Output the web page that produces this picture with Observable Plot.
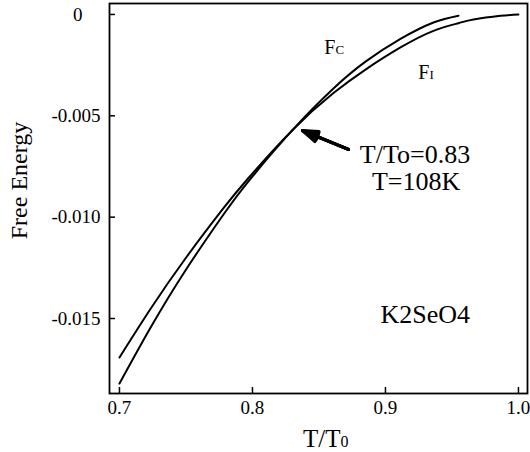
<!DOCTYPE html>
<html>
<head>
<meta charset="utf-8">
<script src="https://cdn.jsdelivr.net/npm/d3@7"></script>
<script src="https://cdn.jsdelivr.net/npm/@observablehq/plot@0.6"></script>
<style>
  html, body { margin: 0; padding: 0; background: #fff; }
</style>
</head>
<body>
<div id="chart"></div>
<script>
// Reduced temperature T/T0 and free energy of the commensurate phase (F_C)
const tC = [0.7000, 0.7233, 0.7496, 0.7782, 0.7970, 0.8300, 0.8609, 0.8850, 0.9113, 0.9361, 0.9549];
const fC = [-0.01821, -0.01546, -0.01263, -0.00987, -0.00823, -0.00571, -0.00365, -0.00233, -0.00121, -0.00040, -0.00006];

// Free energy of the incommensurate phase (F_I)
const tI = [0.7000, 0.7233, 0.7496, 0.7782, 0.7970, 0.8300, 0.8609, 0.8850, 0.9113, 0.9361, 0.9549, 0.9662, 0.9865, 1.0000];
const fI = [-0.01692, -0.01453, -0.01204, -0.00956, -0.00807, -0.00571, -0.00388, -0.00272, -0.00163, -0.00081, -0.00043, -0.00025, -0.00007, 0.0];

// Axis ticks
const xTicks = [0.7, 0.8, 0.9, 1.0];
const yTicks = [-0.005, -0.010, -0.015];
const xTickLabels = ["0.7", "0.8", "0.9", "1.0"];
const yTickLabels = ["-0.005", "-0.010", "-0.015"];

// Transition point marked by the arrow
const arrowFrom = {x: 0.8722, y: -0.00666};
const arrowTo = {x: 0.8376, y: -0.00573};

// Curve labels: main letter and small suffix
const curveLabels = [
  {x: 0.8624, y: -0.00193, main: "F", sub: "C"},
  {x: 0.9331, y: -0.00317, main: "F", sub: "I"}
];
const transitionLines = [
  {x: 0.9222, y: -0.00735, text: "T/To=0.83"},
  {x: 0.9230, y: -0.00868, text: "T=108K"}
];
const compound = [{x: 0.8963, y: -0.0152, text: "K2SeO4"}];

const rowsC = tC.map((t, i) => ({t, f: fC[i]}));
const rowsI = tI.map((t, i) => ({t, f: fI[i]}));
const arrowRow = [{x1: arrowFrom.x, y1: arrowFrom.y, x2: arrowTo.x, y2: arrowTo.y}];

const fmtX = d => xTickLabels[xTicks.indexOf(d)];
const fmtY = d => yTickLabels[yTicks.indexOf(d)];

// a solid-looking arrowhead: stacked chevrons with narrowing angles
const arrowMarks = [38, 26, 14, 4].map((headAngle, i) =>
  Plot.arrow(arrowRow, {
    x1: "x1", y1: "y1", x2: "x2", y2: "y2",
    stroke: "#000", strokeWidth: i === 0 ? 3.2 : 3, headLength: 15, headAngle
  })
);

const chart = Plot.plot({
  width: 530,
  height: 452,
  marginLeft: 109,
  marginRight: 3,
  marginTop: 3,
  marginBottom: 59,
  style: {fontFamily: "'Liberation Serif', 'Times New Roman', serif", fontSize: "19px", color: "#000", background: "#fff"},
  x: {domain: [0.6925, 1.0068]},
  y: {domain: [-0.0187, 0.00054]},
  marks: [
    Plot.frame({stroke: "#000", strokeWidth: 1.8}),
    Plot.axisX(xTicks, {tickSize: -6, tickPadding: 12.5, tickFormat: fmtX, strokeWidth: 1.5, fontSize: 19, label: null}),
    Plot.axisY(yTicks, {tickSize: -6, tickPadding: 15, tickFormat: fmtY, strokeWidth: 1.5, fontSize: 19, label: null}),
    Plot.axisY([0], {tickSize: -6, tickPadding: 33, tickFormat: () => "0", strokeWidth: 1.5, fontSize: 19, label: null}),
    // axis titles
    Plot.text(["Free Energy"], {frameAnchor: "left", textAnchor: "middle", rotate: -90, dx: -90, dy: -18, fontSize: 24, lineAnchor: "middle"}),
    Plot.text(["T/T"], {frameAnchor: "bottom", textAnchor: "end", dx: 22, dy: 45, fontSize: 25, lineAnchor: "middle"}),
    Plot.text(["0"], {frameAnchor: "bottom", textAnchor: "start", dx: 22, dy: 48, fontSize: 16, lineAnchor: "middle"}),
    // free energy curves
    Plot.line(rowsC, {x: "t", y: "f", curve: "natural", stroke: "#000", strokeWidth: 2}),
    Plot.line(rowsI, {x: "t", y: "f", curve: "natural", stroke: "#000", strokeWidth: 2}),
    // arrow to the crossing point
    ...arrowMarks,
    // labels
    Plot.text(curveLabels, {x: "x", y: "y", text: "main", textAnchor: "end", lineAnchor: "middle", fontSize: 20, dy: -6.4}),
    Plot.text(curveLabels, {x: "x", y: "y", text: "sub", textAnchor: "start", lineAnchor: "middle", fontSize: 13, dy: -4.2}),
    Plot.text(transitionLines, {x: "x", y: "y", text: "text", textAnchor: "middle", lineAnchor: "middle", fontSize: 26, dy: -8.3}),
    Plot.text(compound, {x: "x", y: "y", text: "text", textAnchor: "start", lineAnchor: "middle", fontSize: 26, dy: -8.3})
  ]
});

document.getElementById("chart").appendChild(chart);
</script>
</body>
</html>
